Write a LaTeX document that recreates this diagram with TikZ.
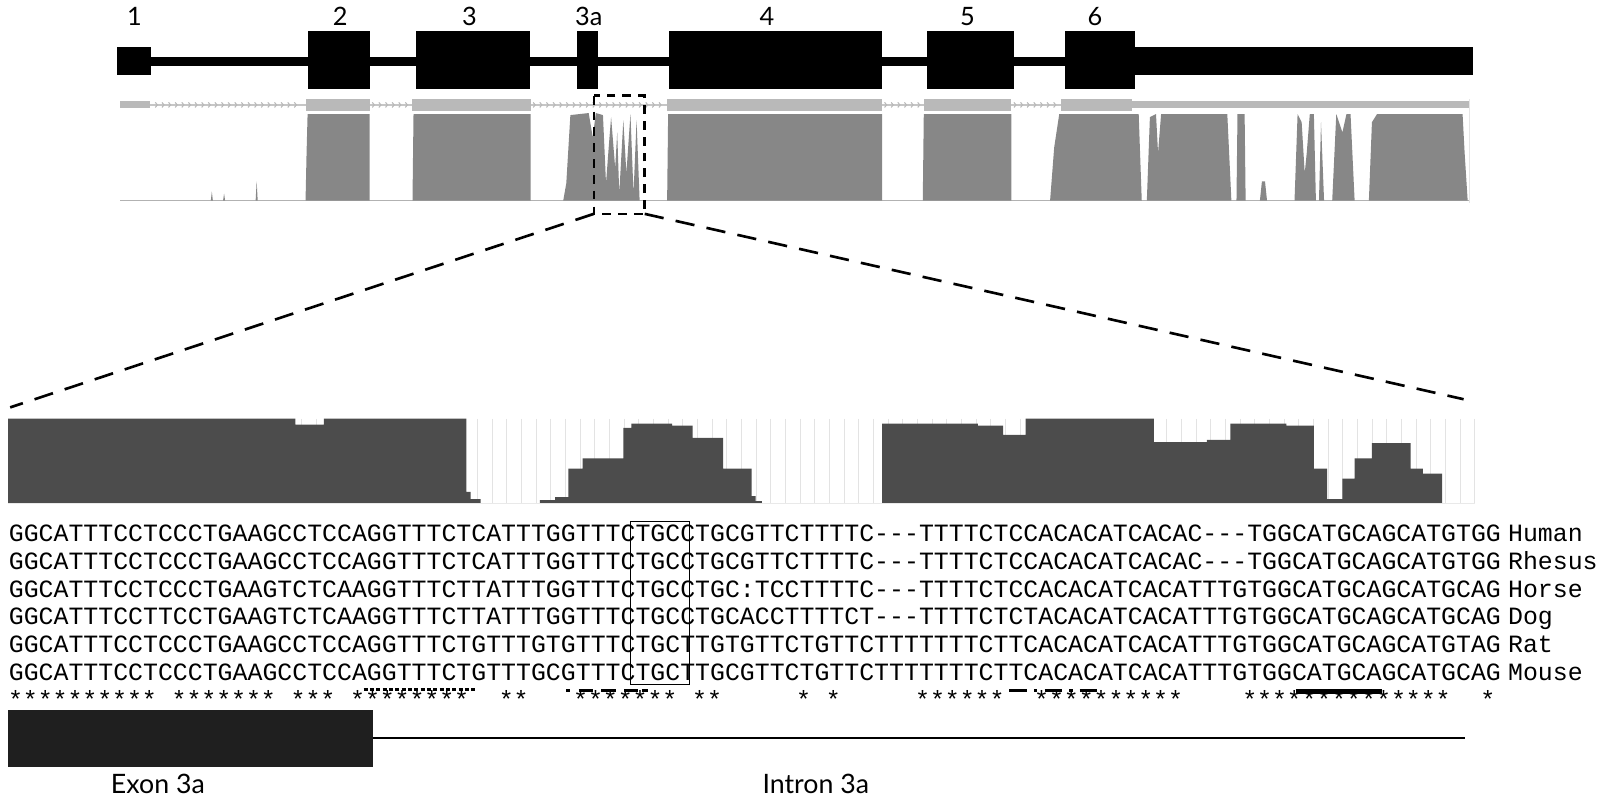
\documentclass[tikz,border=0pt]{standalone}
\usepackage{fontspec}
\setmainfont{Lato}
\setmonofont{Liberation Mono}
\tikzset{
  exon/.style={fill=black, draw=none},
  trackbar/.style={fill=gray!55, draw=none},
  cons/.style={fill=black!47, draw=none},
  zoomcons/.style={fill=black!70, draw=none},
  label/.style={font=\fontsize{7.2}{8}\selectfont, inner sep=0pt},
  seq/.style={font=\ttfamily\fontsize{7.07}{8}\selectfont, inner sep=0pt},
  zoomline/.style={line width=0.75pt, dash pattern=on 5.5pt off 3.5pt},
}
\begin{document}
\begin{tikzpicture}[x=0.010185cm, y=-0.010185cm]
\useasboundingbox (0,0) rectangle (1568,785.5);
% gene model
\fill[exon] (148,56) rectangle (1114,65);
\fill[exon] (115,46) rectangle (148,74);
\fill[exon] (1114,46) rectangle (1446,74);
\foreach \name/\xa/\xb/\lab in {ex2/302/363/2, ex3/408/520/3, ex3a/567/587/3a, ex4/657/866/4, ex5/910/996/5, ex6/1046/1114/6}{
  \fill[exon] (\xa,30) rectangle (\xb,87);
}
\foreach \name/\x/\lab in {l1/132/1, l2/334/2, l3/461/3, l3a/578/3a, l4/753/4, l5/950/5, l6/1075/6}
  \node[label] (\name) at (\x,16) {\lab};
% conservation track
\draw[gray!45, line width=0.4pt] (147,103) -- (1111,103);
\foreach \xa/\xb in {150/300, 363/405, 521/655, 866/907, 993/1042}{
  \pgfmathtruncatemacro\n{(\xb-\xa-8)/6.5}
  \foreach \k in {0,...,\n}
    \draw[gray!55, line width=0.3pt] (\xa+2.5+\k*6.5,100.5) -- (\xa+4.5+\k*6.5,103) -- (\xa+2.5+\k*6.5,105.5);
}
\fill[trackbar] (118,99) rectangle (147,106);
\fill[trackbar] (1111,99) rectangle (1442,106);
\foreach \xa/\xb in {300/363, 405/521, 655/866, 907/993, 1042/1111}
  \fill[trackbar] (\xa,97) rectangle (\xb,109);
\draw[gray!60, line width=0.3pt] (118,197) -- (1442,197);
\draw[gray!20, line width=0.4pt] (1443,97) -- (1443,199);
\fill[cons] (300,197) -- (301,150) -- (302,112) -- (363,112) -- (363,197) -- cycle;
\fill[cons] (405,197) -- (406,112) -- (521,112) -- (521,197) -- cycle;
\fill[cons] (655,197) -- (656,112) -- (866,112) -- (866,197) -- cycle;
\fill[cons] (906,197) -- (907,112) -- (993,112) -- (993,197) -- cycle;
\fill[cons] (553,197) -- (556,180) -- (560,113) -- (578,111) -- (582,135) -- (585,111) -- (592,113) -- (595,180) -- (598,140)
  -- (600,115) -- (604,165) -- (606,130) -- (608,190) -- (612,118) -- (615,170) -- (619,112) -- (622,190) -- (625,118) -- (628,197) -- cycle;
\fill[cons] (1031,197) -- (1035,145) -- (1040,112) -- (1118,112) -- (1121,197) -- cycle;
\fill[cons] (1126,197) -- (1129,115) -- (1135,112) -- (1137,150) -- (1140,112) -- (1205,112) -- (1209,197) -- cycle;
\fill[cons] (1214,197) -- (1215,112) -- (1222,112) -- (1223,197) -- cycle;
\fill[cons] (1237,197) -- (1239,178) -- (1242,178) -- (1244,197) -- cycle;
\fill[cons] (1271,197) -- (1274,112) -- (1278,120) -- (1281,170) -- (1283,150) -- (1286,112) -- (1290,112) -- (1292,197) -- cycle;
\fill[cons] (1295,197) -- (1297,120) -- (1300,197) -- cycle;
\fill[cons] (1308,197) -- (1312,112) -- (1318,130) -- (1322,112) -- (1326,112) -- (1330,197) -- cycle;
\fill[cons] (1344,197) -- (1347,120) -- (1352,112) -- (1436,112) -- (1438,150) -- (1441,197) -- cycle;
\fill[cons] (207,197) -- (208,188) -- (209,197) -- cycle;
\fill[cons] (219,197) -- (220,190) -- (221,197) -- cycle;
\fill[cons] (251,197) -- (252,178) -- (253,197) -- cycle;
% zoom window
\coordinate (zl) at (583,210);
\coordinate (zr) at (633,210);
\draw[line width=0.7pt, dash pattern=on 2.5pt off 2pt] (583,94) rectangle (633,210);
\coordinate (hl) at (10,400);
\coordinate (hr) at (1437,392);
\draw[zoomline] (zl) -- (hl);
\draw[zoomline] (zr) -- (hr);
% zoomed conservation
\foreach \k in {0,...,99}
  \draw[gray!22, line width=0.3pt] (8+\k*14.4,411) -- (8+\k*14.4,494);
\draw[gray!22, line width=0.3pt] (1448,411) -- (1448,494);
\fill[zoomcons] (8,494) |- (290,411) |- (318,417) |- (458,411) |- (462,483) |- (472,490) |- (475,494) -| (530,491)
  -| (545,488) -| (558,460) -| (572,450) -| (612,420) -| (620,416) -| (660,418) -| (680,430) -| (710,460) -| (738,487)
  -| (742,492) -| (748,494) -| (866,416) -| (960,418) -| (985,427) -| (1007,411) -| (1133,434) -| (1185,432) -| (1208,416)
  -| (1263,418) -| (1290,460) -| (1303,490) -| (1318,470) -| (1330,450) -| (1347,435) -| (1385,460) -| (1397,465)
  -| (1416,494) -- (1448,494) -- (8,494) -- cycle;
% alignment
\foreach \row/\dna/\sp in {
  0/GGCATTTCCTCCCTGAAGCCTCCAGGTTTCTCATTTGGTTTCTGCCTGCGTTCTTTTC---TTTTCTCCACACATCACAC---TGGCATGCAGCATGTGG/Human,
  1/GGCATTTCCTCCCTGAAGCCTCCAGGTTTCTCATTTGGTTTCTGCCTGCGTTCTTTTC---TTTTCTCCACACATCACAC---TGGCATGCAGCATGTGG/Rhesus,
  2/GGCATTTCCTCCCTGAAGTCTCAAGGTTTCTTATTTGGTTTCTGCCTGC:TCCTTTTC---TTTTCTCCACACATCACATTTGTGGCATGCAGCATGCAG/Horse,
  3/GGCATTTCCTTCCTGAAGTCTCAAGGTTTCTTATTTGGTTTCTGCCTGCACCTTTTCT---TTTTCTCTACACATCACATTTGTGGCATGCAGCATGCAG/Dog,
  4/GGCATTTCCTCCCTGAAGCCTCCAGGTTTCTGTTTGTGTTTCTGCTTGTGTTCTGTTCTTTTTTTCTTCACACATCACATTTGTGGCATGCAGCATGTAG/Rat,
  5/GGCATTTCCTCCCTGAAGCCTCCAGGTTTCTGTTTGCGTTTCTGCTTGCGTTCTGTTCTTTTTTTCTTCACACATCACATTTGTGGCATGCAGCATGCAG/Mouse}{
  \node[seq, anchor=base west] (seq\row) at (8,532+\row*27.2) {\dna};
  \node[seq, anchor=base west] (sp\row) at (1480,532+\row*27.2) {\sp};
}
\foreach \a/\b in {1/10, 12/18, 20/22, 24/31, 34/35, 39/45, 47/48, 54/54, 56/56, 62/67, 70/79, 84/97, 100/100}
  \foreach \c in {\a,...,\b}
    \node[seq] at (8+\c*14.6-7.3,687) {*};
\draw[line width=0.45pt] (619,512) rectangle (677,672);
% motif marks
\draw[line width=1pt, dash pattern=on 1.2pt off 0.6pt] (357,677) -- (466,677);
\draw[line width=1pt, dash pattern=on 1pt off 2.5pt on 4pt off 2.5pt on 4pt off 2.5pt on 4pt] (556,678) -- (636,678);
\draw[line width=1.1pt, dash pattern=on 5pt off 2pt on 1pt off 2pt] (991,678) -- (1084,678);
\draw[line width=1.2pt] (1272,679) -- (1357,679);
% exon 3a / intron 3a
\fill[black!88] (8,697) rectangle (366,753);
\draw[line width=0.6pt] (366,725) -- (1438,725);
\node[label, font=\fontsize{7.6}{9}\selectfont] (ex3alab) at (155,770) {Exon 3a};
\node[label, font=\fontsize{7.6}{9}\selectfont] (in3alab) at (801,770) {Intron 3a};
\end{tikzpicture}
\end{document}
